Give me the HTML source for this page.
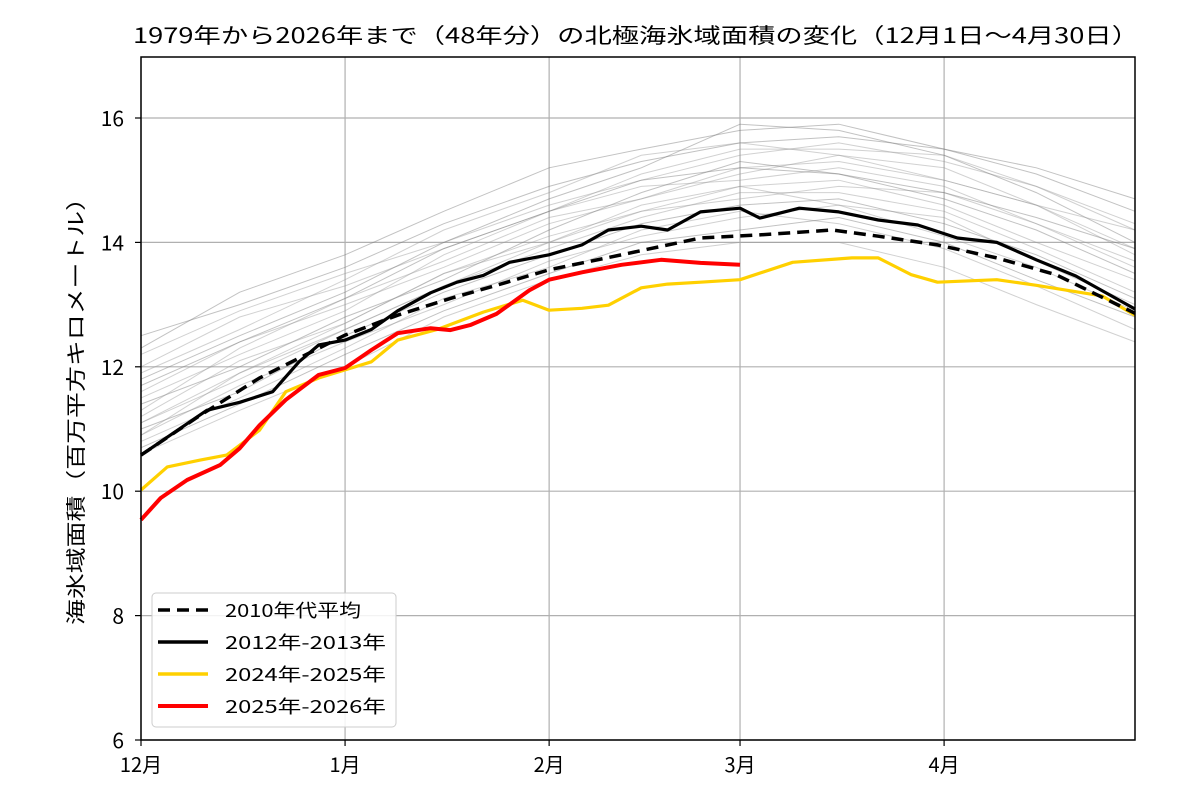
<!DOCTYPE html>
<html><head><meta charset="utf-8"><style>
html,body{margin:0;padding:0;background:#fff;width:1200px;height:800px;overflow:hidden}
text{font-family:"Noto Sans CJK JP","Liberation Sans",sans-serif;fill:#000}
</style></head><body>
<svg id="chart" width="1200" height="800" xmlns="http://www.w3.org/2000/svg">
<text x="133" y="43" font-size="21" textLength="1006" lengthAdjust="spacingAndGlyphs">1979年から2026年まで（48年分）の北極海氷域面積の変化（12月1日～4月30日）</text>
<g id="grid"></g>
<g id="gray"></g>
<g id="main"></g>
<rect x="141" y="57" width="994" height="683" fill="none" stroke="#000" stroke-width="1.5"/>
<g id="axes"></g>
<text transform="translate(83,405) rotate(-90)" text-anchor="middle" font-size="20" textLength="440" lengthAdjust="spacingAndGlyphs">海氷域面積（百万平方キロメートル）</text>
<g>
<rect x="152" y="593" width="244" height="134" rx="4" fill="#fff" fill-opacity="0.85" stroke="#ccc"/>
<g><line x1="158" y1="610" x2="208" y2="610" stroke="#000" stroke-width="3.5" stroke-dasharray="12,7"/><text x="225" y="617" font-size="18" textLength="136" lengthAdjust="spacingAndGlyphs">2010年代平均</text></g>
<g><line x1="158" y1="642" x2="208" y2="642" stroke="#000" stroke-width="3.5"/><text x="225" y="649" font-size="18" textLength="161" lengthAdjust="spacingAndGlyphs">2012年-2013年</text></g>
<g><line x1="158" y1="674" x2="208" y2="674" stroke="#ffd000" stroke-width="3.5"/><text x="225" y="681" font-size="18" textLength="161" lengthAdjust="spacingAndGlyphs">2024年-2025年</text></g>
<g><line x1="158" y1="706" x2="208" y2="706" stroke="#ff0000" stroke-width="4"/><text x="225" y="713" font-size="18" textLength="161" lengthAdjust="spacingAndGlyphs">2025年-2026年</text></g>
</g>
</svg>
<script>
const monthTicks=[0,31,62,91,122];
const monthLabels=["12月","1月","2月","3月","4月"];
const yTicks=[6,8,10,12,14,16];
const days2012=[0,10,15,20,24,27,31,35,39,44,48,52,56,62,67,71,76,80,85,91,94,100,106,112,118,124,130,136,142,151];
const vals2012=[10.58,11.3,11.43,11.6,12.08,12.35,12.43,12.6,12.9,13.19,13.36,13.47,13.68,13.8,13.96,14.2,14.26,14.2,14.49,14.55,14.39,14.55,14.49,14.36,14.28,14.07,14.0,13.72,13.46,12.93];
const days2010s=[0,9,18,31,39,47,54,62,73,85,94,105,112,121,130,139,151];
const vals2010s=[10.58,11.22,11.82,12.51,12.83,13.1,13.31,13.56,13.8,14.07,14.12,14.2,14.1,13.96,13.75,13.48,12.86];
const days2024=[0,4,9,13,18,22,27,31,35,39,45,52,58,62,67,71,76,80,85,91,99,108,112,117,121,130,136,146,151];
const vals2024=[10.02,10.39,10.5,10.58,10.98,11.6,11.82,11.95,12.08,12.43,12.6,12.88,13.07,12.91,12.94,12.99,13.27,13.33,13.36,13.4,13.68,13.75,13.75,13.48,13.36,13.4,13.31,13.14,12.83];
const days2025=[0,3,7,12,15,18,22,27,31,35,39,44,47,50,54,59,62,67,73,79,85,91];
const vals2025=[9.54,9.89,10.18,10.42,10.69,11.06,11.47,11.87,11.98,12.27,12.54,12.62,12.59,12.67,12.85,13.23,13.4,13.52,13.64,13.72,13.67,13.64];
const grayDays=[0,15,31,46,62,76,91,106,122,136,151];
const grayVals=[
[12.5,13.0,13.6,14.3,14.9,15.3,15.6,15.7,15.5,15.1,14.5],
[12.2,12.9,13.5,14.0,14.6,15.0,15.4,15.6,15.3,14.9,14.2],
[12.0,12.8,13.3,13.9,14.5,15.1,15.5,15.5,15.4,14.9,14.3],
[11.8,12.5,13.2,14.0,14.7,15.2,15.9,15.8,15.4,14.8,14.0],
[11.6,12.4,13.0,13.6,14.3,14.7,15.2,15.3,15.0,14.6,13.9],
[11.5,12.2,12.9,13.8,14.5,14.9,15.0,15.2,14.9,14.3,13.7],
[11.4,12.0,12.8,13.4,14.2,14.8,15.3,15.1,14.7,14.2,13.5],
[11.2,12.1,12.7,13.5,14.0,14.6,14.9,15.0,14.6,14.0,13.4],
[11.1,11.8,12.6,13.3,13.9,14.4,14.8,14.8,14.5,13.9,13.2],
[11.0,11.6,12.5,13.2,13.8,14.3,14.6,14.7,14.3,13.8,13.1],
[10.9,11.7,12.4,13.0,13.7,14.1,14.4,14.6,14.4,13.7,13.0],
[10.8,11.5,12.3,13.1,13.6,14.2,14.5,14.3,13.9,13.3,12.6],
[10.7,11.4,12.2,12.9,13.5,14.0,14.2,14.4,14.0,13.4,12.8],
[10.6,11.3,12.0,12.8,13.4,13.8,14.0,14.0,13.6,13.0,12.4],
[11.9,12.6,13.4,14.2,14.8,15.4,15.6,15.4,15.0,14.6,14.2],
[12.3,13.2,13.8,14.5,15.2,15.5,15.8,15.9,15.5,15.2,14.7],
[11.3,12.3,13.1,13.7,14.4,14.7,15.1,15.4,15.2,14.6,13.8],
[10.9,11.9,12.7,13.5,14.1,14.5,14.7,14.9,14.8,14.3,13.6],
[11.7,12.4,13.1,13.9,14.5,15.0,15.2,15.1,14.8,14.4,13.9],
[11.1,11.9,12.6,13.3,14.0,14.5,14.9,14.6,14.1,13.6,12.9]
];
const X0=141,PXD=994/151,Y0=740,PXV=62.2;
function sx(d){return X0+d*PXD;}
function sy(v){return Y0-(v-6)*PXV;}
const NS="http://www.w3.org/2000/svg";
function mk(tag,attrs,parent){const e=document.createElementNS(NS,tag);for(const k in attrs)e.setAttribute(k,attrs[k]);parent.appendChild(e);return e;}
const grid=document.getElementById('grid'),axes=document.getElementById('axes');
monthTicks.forEach((d,i)=>{
 const g=mk('line',{x1:sx(d),x2:sx(d),y1:57,y2:740,stroke:'#b0b0b0','stroke-width':1.2},grid);
 
 
 const t=mk('line',{x1:sx(d),x2:sx(d),y1:740,y2:746,stroke:'#000','stroke-width':1.2},axes);
 
 
 const l=mk('text',{x:sx(d),y:772,'text-anchor':'middle','font-size':20},axes);
 l.textContent=monthLabels[i];
 
 
});
yTicks.forEach(v=>{
 const g=mk('line',{x1:141,x2:1135,y1:sy(v),y2:sy(v),stroke:'#b0b0b0','stroke-width':1.2},grid);
 
 
 const t=mk('line',{x1:135,x2:141,y1:sy(v),y2:sy(v),stroke:'#000','stroke-width':1.2},axes);
 
 
 const l=mk('text',{x:124,y:sy(v)+8,'text-anchor':'end','font-size':21},axes);
 l.textContent=v;
 
 
});
function pts(ds,vs){return ds.map((d,i)=>sx(d).toFixed(1)+','+sy(vs[i]).toFixed(1)).join(' ');}
const gray=document.getElementById('gray');
grayVals.forEach((vs,i)=>{
 const p=mk('polyline',{points:pts(grayDays,vs),fill:'none',stroke:i%3==0?'#777':'#999','stroke-opacity':0.45,'stroke-width':1},gray);
 
 
});
const main=document.getElementById('main');
const s1=mk('polyline',{points:pts(days2024,vals2024),fill:'none',stroke:'#ffd000','stroke-width':3.2,'stroke-linejoin':'round'},main);


const s2=mk('polyline',{points:pts(days2012,vals2012),fill:'none',stroke:'#000','stroke-width':3.2,'stroke-linejoin':'round'},main);


const s3=mk('polyline',{points:pts(days2010s,vals2010s),fill:'none',stroke:'#000','stroke-width':3.5,'stroke-dasharray':'12,7'},main);


const s4=mk('polyline',{points:pts(days2025,vals2025),fill:'none',stroke:'#ff0000','stroke-width':4,'stroke-linejoin':'round'},main);


</script>
</body></html>
